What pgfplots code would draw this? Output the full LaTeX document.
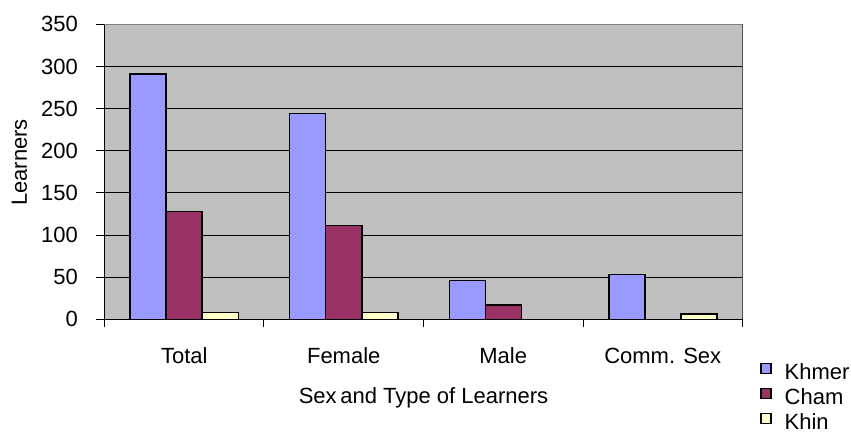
\documentclass[border=0pt]{standalone}
\usepackage{fontspec}
\setmainfont{Liberation Sans}
\usepackage{pgfplots}
\pgfplotsset{compat=1.18}
\definecolor{khmer}{HTML}{9999FF}
\definecolor{cham}{HTML}{993366}
\definecolor{khin}{HTML}{FFFFCC}
\definecolor{plotbg}{HTML}{C0C0C0}
\definecolor{framegray}{HTML}{808080}
\begin{document}
\fontsize{22bp}{26bp}\selectfont
\begin{tikzpicture}
\useasboundingbox (-104.5bp,-116.7bp) rectangle (746.5bp,319.3bp);
\begin{axis}[
  at={(0,0)}, anchor=south west,
  scale only axis, width=638bp, height=295bp,
  xmin=-0.5, xmax=3.5, ymin=0, ymax=350,
  ytick={0,50,...,350},
  xtick={-0.5,0.5,1.5,2.5,3.5}, xticklabels={},
  extra x ticks={0,1,2,3},
  extra x tick labels={Total,Female,Male,Comm. Sex},
  extra x tick style={major tick length=0pt},
  tick align=outside, xtick pos=bottom, ytick pos=left,
  major tick length=8bp,
  ymajorgrids, grid style={black, line width=1bp},
  axis background/.style={fill=plotbg},
  axis line style={black, line width=1bp},
  tick style={black, line width=1bp},
  /pgf/number format/assume math mode=true,
  ticklabel style={font=\fontsize{22bp}{26bp}\selectfont},
  yticklabel style={anchor=east, inner sep=0pt, xshift=-18.5bp},
  xticklabel style={anchor=base, inner sep=0pt, yshift=-44bp},
  xlabel={Sex\,and Type of Learners},
  ylabel={Learners},
  xlabel style={at={(axis description cs:0.5,-0.2871)}, anchor=base, inner sep=0pt},
  ylabel style={at={(axis description cs:-0.1215,0.5315)}, anchor=base, inner sep=0pt, rotate=0},
  ybar=0pt, bar width=36bp,
  legend style={at={(axis description cs:1.0227,-0.136)}, anchor=north west,
    draw=none, fill=none, row sep=4bp, column sep=11bp,
    nodes={inner sep=2bp, text height=16bp, text depth=1bp},
    font=\fontsize{22bp}{26bp}\selectfont},
  legend cell align=left,
  legend image code/.code={\draw[#1, draw=black, line width=1.5bp] (0bp,-1.5bp) rectangle (10bp,8.5bp);},
]
\addplot[fill=khmer, draw=black, line width=1.5bp] coordinates {(0,291) (1,244) (2,46) (3,53)};
\addplot[fill=cham, draw=black, line width=1.5bp] coordinates {(0,128) (1,111) (2,17)};
\addplot[fill=khin, draw=black, line width=1.5bp] coordinates {(0,8) (1,8) (3,6)};
\legend{Khmer,Cham,Khin}
\draw[framegray, line width=1bp] (rel axis cs:0,1) -- (rel axis cs:1,1) -- (rel axis cs:1,0);
\end{axis}
\end{tikzpicture}
\end{document}
